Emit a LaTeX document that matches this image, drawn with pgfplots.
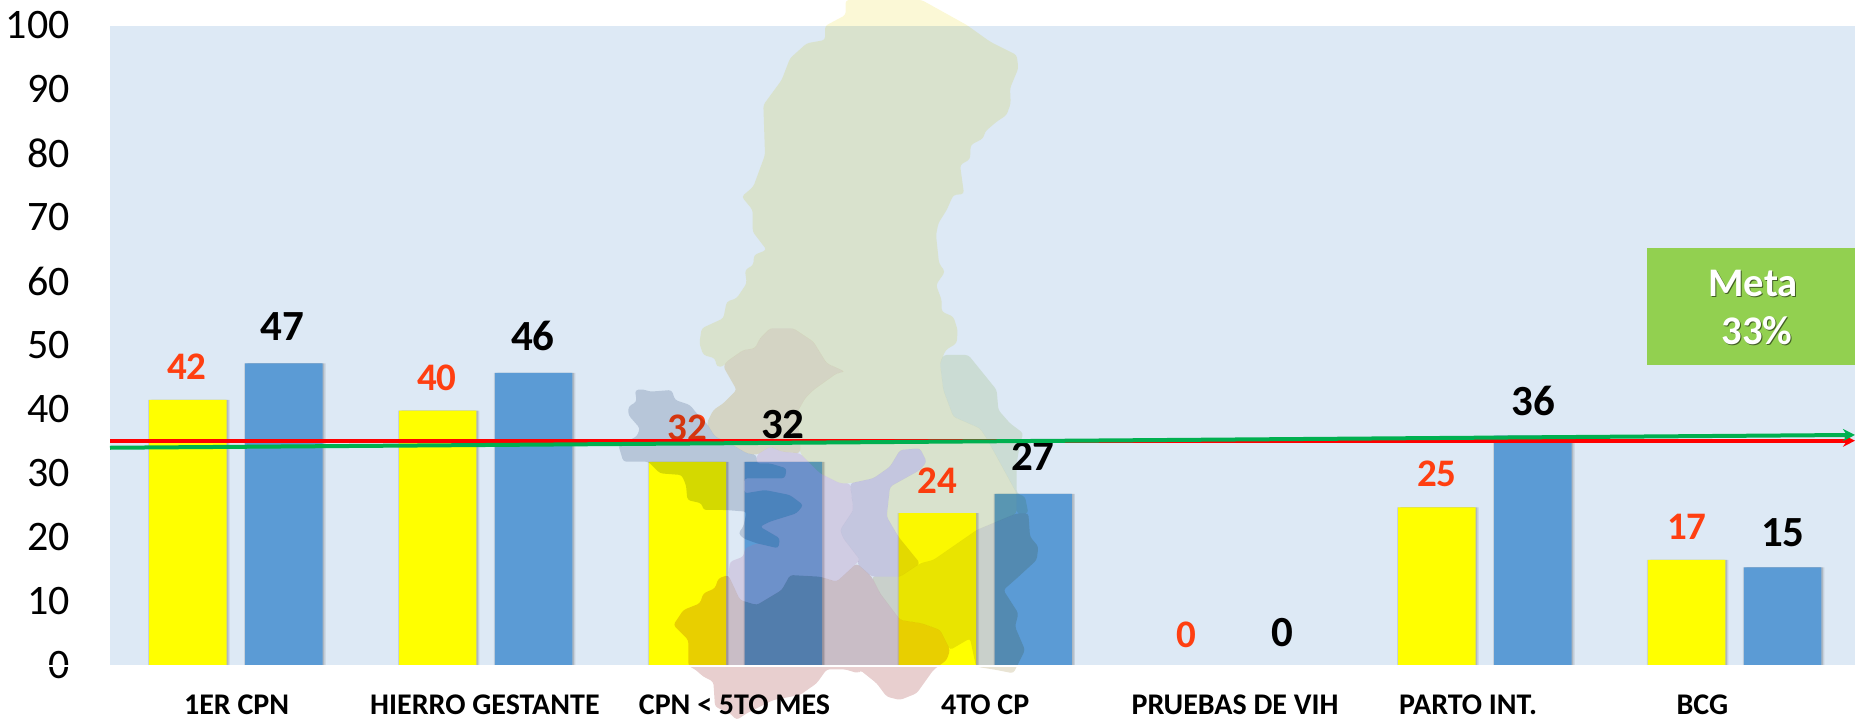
\documentclass[border=0pt]{standalone}
\usepackage{fontspec}
\setmainfont{Carlito}
\usepackage{pgfplots}
\pgfplotsset{compat=1.18}
\usetikzlibrary{arrows.meta}
\definecolor{bgblue}{HTML}{DDE9F5}
\definecolor{baryellow}{HTML}{FFFF00}
\definecolor{barblue}{HTML}{5B9BD5}
\definecolor{lblred}{HTML}{FF3F11}
\definecolor{lineGreen}{HTML}{00B050}
\definecolor{boxgreen}{HTML}{92D050}
\definecolor{mapNorth}{HTML}{FBF8D6}
\definecolor{mapBrown}{HTML}{F5E9CC}
\definecolor{mapSlate}{HTML}{D4D9E2}
\definecolor{mapLilac}{HTML}{AA73AB}
\definecolor{mapPeri}{HTML}{E3D9E9}
\definecolor{mapRose}{HTML}{E8CFCF}
\definecolor{mapStrip}{HTML}{EBF1DD}
\definecolor{mapOlive}{HTML}{E9E4D4}
\pgfplotsset{
  common/.style={
    at={(55pt,27.5pt)}, anchor=south west,
    scale only axis, width=872.5pt, height=320pt,
    xmin=-0.504, xmax=6.482, ymin=0, ymax=100,
    clip=false,
  },
  shade/.style={
    preaction={fill=black,opacity=.10,transform canvas={xshift=1.5pt}},
    preaction={fill=black,opacity=.12,transform canvas={xshift=0.8pt}},
    preaction={fill=black,opacity=.10,transform canvas={xshift=-0.5pt}},
  },
}
\newcommand{\redlbl}[3]{\node[text=lblred,font=\bfseries\fontsize{19.5}{19.5}\selectfont,inner sep=0pt] at (axis cs:#1,#2) {#3};}
\newcommand{\blklbl}[3]{\node[text=black,font=\bfseries\fontsize{21.5}{21.5}\selectfont,inner sep=0pt] at (axis cs:#1,#2) {#3};}
\begin{document}
\begin{tikzpicture}
\path[use as bounding box] (0,0) rectangle (927.5pt,360.5pt);
\begin{axis}[common,
  axis background/.style={fill=bgblue},
  axis line style={draw=none},
  major tick length=0pt,
  ybar,
  ytick={0,10,...,100},
  /pgf/number format/assume math mode=true,
  yticklabel style={font=\fontsize{21}{21}\selectfont,inner sep=0pt,xshift=-20pt,yshift=0.5pt},
  xtick={0.003,0.997,1.996,3,4,4.933,5.871},
  xticklabels={1ER CPN,HIERRO GESTANTE,CPN < 5TO MES,4TO CP,PRUEBAS DE VIH,PARTO INT.,BCG},
  xticklabel style={font=\bfseries\fontsize{15}{15}\selectfont,inner sep=0pt,anchor=base,yshift=-24.5pt},
]
\addplot[fill=baryellow,draw=none,bar width=0.31,bar shift=-0.192,shade] coordinates {(0,41.6)(1,39.9)(2,31.9)(3,23.9)(4,0)(5,24.8)(6,16.6)};
\addplot[fill=barblue,draw=none,bar width=0.31,bar shift=0.192,shade] coordinates {(0,47.3)(1,45.8)(2,31.9)(3,26.9)(4,0)(5,36)(6,15.4)};
\redlbl{-0.196}{46.7}{42}
\blklbl{0.185}{53}{47}
\redlbl{0.805}{45}{40}
\blklbl{1.189}{51.6}{46}
\redlbl{1.806}{37.2}{32}
\blklbl{2.19}{37.7}{32}
\redlbl{2.807}{28.9}{24}
\blklbl{3.191}{32.7}{27}
\redlbl{3.807}{4.8}{0}
\blklbl{4.188}{5.3}{0}
\redlbl{4.808}{30}{25}
\blklbl{5.193}{41.4}{36}
\redlbl{5.809}{21.7}{17}
\blklbl{6.193}{20.9}{15}
\end{axis}
% map backdrop laid over what is below it
\begin{scope}[xshift=300pt,yshift=195.5pt,x=0.166667pt,y=-0.166667pt,rounded corners=1.5pt]
\begin{scope}[blend mode=multiply]
\fill[mapNorth] (737,-990)--(737,-945)--(675,-912)--(675,-870)--(620,-860)--(570,-815)--(545,-750)--(490,-675)--(495,-525)--(460,-430)--(425,-400)--(458,-360)--(458,-295)--(500,-240)--(462,-225)--(460,-195)--(435,-180)--(440,-140)--(410,-95)--(380,-85)--(370,-35)--(305,-5)--(298,40)--(310,75)--(345,85)--(350,110)--(370,110)--(380,95)--(430,60)--(465,55)--(480,25)--(510,-5)--(580,-5)--(640,35)--(680,100)--(735,125)--(710,130)--(640,180)--(615,205)--(590,250)--(600,330)--(600,370)--(660,430)--(720,460)--(750,460)--(820,445)--(870,410)--(900,360)--(960,355)--(980,395)--(960,420)--(870,470)--(860,560)--(895,620)--(960,700)--(1000,690)--(1130,600)--(1250,550)--(1250,490)--(1160,325)--(1140,295)--(1060,260)--(1030,180)--(1020,100)--(1037,60)--(1070,40)--(1073,0)--(1060,-40)--(1025,-55)--(1025,-90)--(1008,-135)--(1035,-175)--(1017,-200)--(1008,-285)--(1015,-320)--(1040,-360)--(1060,-405)--(1092,-408)--(1080,-495)--(1110,-512)--(1112,-555)--(1150,-575)--(1155,-595)--(1190,-625)--(1220,-645)--(1232,-680)--(1230,-725)--(1255,-785)--(1250,-825)--(1170,-865)--(1100,-915)--(965,-990)--cycle;
\fill[mapBrown] (370,110)--(380,95)--(430,60)--(465,55)--(480,25)--(510,-5)--(580,-5)--(640,35)--(680,100)--(735,125)--(710,130)--(640,180)--(615,205)--(590,250)--(600,330)--(600,370)--(545,365)--(510,350)--(470,375)--(440,370)--(390,340)--(345,320)--(320,280)--(340,240)--(370,220)--(410,180)--cycle;
\fill[mapSlate] (105,180)--(130,178)--(150,185)--(215,180)--(225,210)--(270,225)--(290,250)--(320,280)--(345,320)--(390,340)--(440,370)--(470,375)--(470,400)--(510,400)--(560,415)--(555,445)--(433,445)--(433,490)--(495,480)--(570,495)--(610,525)--(590,550)--(510,575)--(480,590)--(540,625)--(535,655)--(470,640)--(430,625)--(415,610)--(430,590)--(440,545)--(378,540)--(310,540)--(305,520)--(262,510)--(258,465)--(245,435)--(180,430)--(150,400)--(145,395)--(70,395)--(55,345)--(110,320)--(120,295)--(85,255)--(85,230)--(110,215)--cycle;
\fill[mapPeri] (900,360)--(960,355)--(980,395)--(960,420)--(870,470)--(860,560)--(895,620)--(960,700)--(900,740)--(815,740)--(770,700)--(780,690)--(730,625)--(720,600)--(760,540)--(750,460)--(820,445)--(870,410)--cycle;
\fill[mapRose] (355,745)--(385,735)--(420,810)--(470,825)--(545,780)--(570,735)--(660,740)--(710,755)--(770,700)--(815,740)--(840,790)--(900,870)--(965,880)--(1020,900)--(1050,960)--(1040,990)--(1000,1020)--(950,1090)--(900,1110)--(860,1100)--(830,1060)--(780,1020)--(775,1030)--(735,1018)--(680,1018)--(650,1060)--(600,1095)--(520,1110)--(440,1150)--(410,1170)--(390,1150)--(345,1130)--(340,1055)--(310,1040)--(285,1018)--(265,1008)--(265,930)--(220,885)--(250,840)--(300,820)--(310,790)--(345,775)--cycle;
\fill[mapStrip] (1030,75)--(1105,75)--(1190,180)--(1195,240)--(1230,280)--(1270,310)--(1260,340)--(1250,400)--(1250,490)--(1275,500)--(1285,550)--(1250,550)--(1250,490)--(1160,325)--(1140,295)--(1060,260)--(1030,180)--(1020,100)--cycle;
\fill[mapOlive] (1285,550)--(1290,620)--(1315,650)--(1310,690)--(1250,745)--(1210,780)--(1255,850)--(1245,890)--(1275,960)--(1240,1030)--(1190,1020)--(1128,1010)--(1110,925)--(1050,960)--(1020,900)--(965,880)--(900,870)--(840,790)--(815,740)--(900,740)--(960,700)--(1000,690)--(1130,600)--(1250,550)--cycle;
\end{scope}
\fill[mapLilac,opacity=.24] (470,375)--(510,350)--(545,365)--(600,370)--(660,430)--(720,460)--(750,460)--(760,540)--(720,600)--(730,625)--(780,690)--(770,700)--(710,755)--(660,740)--(570,735)--(545,780)--(470,825)--(420,810)--(385,735)--(390,695)--(430,680)--(435,655)--(470,640)--(535,655)--(540,625)--(480,590)--(510,575)--(590,550)--(610,525)--(570,495)--(495,480)--(433,490)--(433,445)--(555,445)--(560,415)--(510,400)--(470,400)--cycle;
\end{scope}
\begin{axis}[common, axis lines=none, ticks=none]
\draw[white,line width=0.8pt] (axis cs:-0.76,0)--(axis cs:6.482,0);
\addplot[red,line width=2pt,-{Stealth[length=6pt,width=6pt]}] coordinates {(-0.504,35.2)(6.482,35.2)};
\addplot[lineGreen,line width=2pt,-{Stealth[length=6pt,width=6pt]}] coordinates {(-0.504,34.1)(6.482,36.1)};
\end{axis}
% Meta box
\fill[boxgreen] (823.5pt,178pt) rectangle (927.5pt,236.5pt);
\begin{scope}[font=\bfseries\fontsize{20.3}{20.3}\selectfont,inner sep=0pt]
\node[text=black!55!boxgreen] at (877pt,218.5pt) {Meta};
\node[text=white] at (876.5pt,219pt) {Meta};
\node[text=black!55!boxgreen] at (879pt,194.5pt) {33\%};
\node[text=white] at (878.5pt,195pt) {33\%};
\end{scope}
\end{tikzpicture}
\end{document}
